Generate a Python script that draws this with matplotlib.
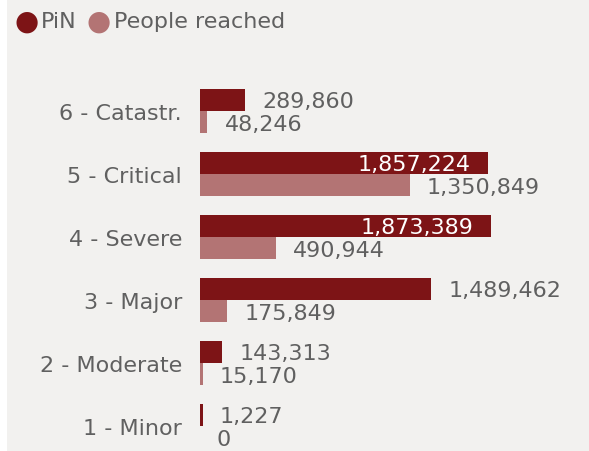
import matplotlib.pyplot as plt
from matplotlib.patches import Rectangle

categories = ["1 - Minor", "2 - Moderate", "3 - Major", "4 - Severe", "5 - Critical", "6 - Catastr."]
pin = [1227, 143313, 1489462, 1873389, 1857224, 289860]
reached = [0, 15170, 175849, 490944, 1350849, 48246]

PIN_COL = "#7d1416"
REACH_COL = "#b37474"
TEXT_COL = "#606060"
BG = "#f2f1ef"
FS = 16

W, H = 589, 452
fig = plt.figure(figsize=(W / 100, H / 100), dpi=100, facecolor=BG)
# thin white strip on the left edge
fig.patches.append(Rectangle((0, 0), 7 / W, 1, transform=fig.transFigure,
                             facecolor="white", edgecolor="none", zorder=-5))

# axes: left edge at x=200px, category 1 centre at y=427px, 63px per category
step = 63
ax = fig.add_axes([200 / W, 0, (W - 200) / W, (H - 80) / H])
ax.set_facecolor("none")
ax.set_ylim(-(H - 427) / step, (427 - 80) / step)
scale = 291 / 1873389  # px per unit
ax.set_xlim(0, (W - 200) / scale)

bh = 22.3 / step
min_w = 3 / scale  # tiny non-zero values still show as a sliver
ys = list(range(len(categories)))
ax.barh([y + bh / 2 for y in ys], [max(v, min_w) if v else 0 for v in pin],
        height=bh, color=PIN_COL, zorder=2)
ax.barh([y - bh / 2 for y in ys], [max(v, min_w) if v else 0 for v in reached],
        height=bh, color=REACH_COL, zorder=2)

gap = 17 / scale
inside_min = 1700000
for y, v in zip(ys, pin):
    if v > inside_min:
        ax.text(v - 18 / scale, y + bh / 2 - 0.02, f"{v:,}", color="white", fontsize=FS,
                ha="right", va="center", zorder=3)
    else:
        ax.text(max(v, min_w) + gap, y + bh / 2 - 0.02, f"{v:,}", color=TEXT_COL, fontsize=FS,
                ha="left", va="center", zorder=3)
for y, v in zip(ys, reached):
    ax.text(v + gap, y - bh / 2 - 0.03, f"{v:,}", color=TEXT_COL, fontsize=FS,
            ha="left", va="center", zorder=3)

ax.set_yticks(ys)
ax.set_yticklabels(categories, fontsize=FS, color=TEXT_COL)
ax.tick_params(axis="y", length=0, pad=13)
ax.set_xticks([])
for s in ax.spines.values():
    s.set_visible(False)

# legend
fig.text(14 / W, 1 - 22 / H, "\u25cf", color=PIN_COL, fontsize=20, ha="left", va="center")
fig.text(41 / W, 1 - 22 / H, "PiN", color=TEXT_COL, fontsize=FS, ha="left", va="center")
fig.text(86 / W, 1 - 22 / H, "\u25cf", color=REACH_COL, fontsize=20, ha="left", va="center")
fig.text(114 / W, 1 - 22 / H, "People reached", color=TEXT_COL, fontsize=FS, ha="left", va="center")

fig.savefig("out.png", dpi=100, facecolor=BG)
